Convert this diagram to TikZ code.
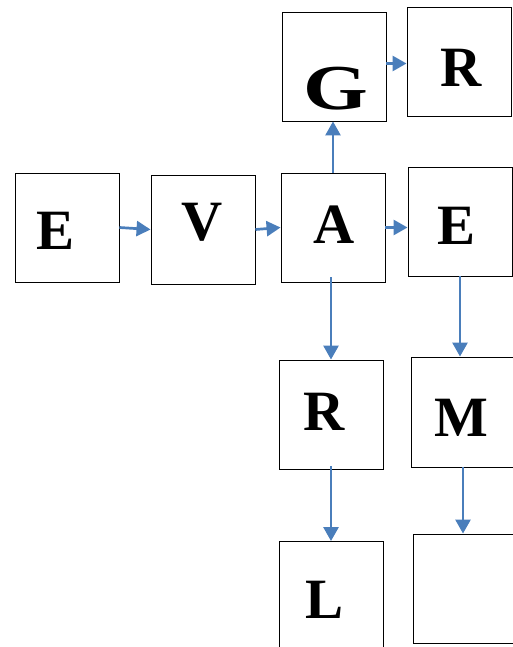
\documentclass[tikz,border=0pt]{standalone}
\usepackage{fontspec}
\setmainfont{Liberation Serif}
\usetikzlibrary{arrows.meta}
\definecolor{flow}{HTML}{4A7EBB}
\tikzset{
  card/.style={draw=black, line width=0.9pt, minimum width=104pt, minimum height=109pt, inner sep=0pt},
  glyph/.style={inner sep=0pt, font=\fontsize{57}{57}\selectfont\bfseries},
  link/.style={draw=flow, line width=2.7pt, -{Triangle[length=14pt,width=15pt]}}
}
\begin{document}
\begin{tikzpicture}[x=1pt,y=-1pt]
\useasboundingbox (0,0) rectangle (513,647);
\clip (0,0) rectangle (513,647);
% boxes
\node[card] (e1) at (67,227.5) {};
\node[card] (v)  at (203,229.5) {};
\node[card] (a)  at (333,227.5) {};
\node[card] (e2) at (460,221.5) {};
\node[card] (g)  at (334,66.5) {};
\node[card] (r1) at (459,61.5) {};
\node[card] (r2) at (331,414.5) {};
\node[card, minimum height=110pt] (m) at (463,412) {};
\node[card] (l)  at (331,596) {};
\node[card] (x)  at (465,588.5) {};
% letters
\node[glyph] (te1) at (56,231) {E};
\node[glyph] (tv)  at (202,222) {V};
\node[glyph] (ta)  at (334,225) {A};
\node[glyph] (te2) at (457,226) {E};
\node[inner sep=0pt, font=\fontsize{64}{64}\selectfont\bfseries] (tg) at (336,89) {\scalebox{1.3}[1]{G}};
\node[glyph] (tr1) at (461,68) {R};
\node[glyph] (tr2) at (324,412) {R};
\node[glyph] (tm)  at (461,418) {M};
\node[glyph] (tl)  at (325,600) {L};
% connectors
\draw[link] (e1.east) -- (v.west);
\draw[link] (v.east) -- (a.west);
\draw[link] (a.east) -- (a.east -| e2.west);
\draw[link] (a.north) -- (a.north |- g.south);
\draw[link] ([yshift=-2pt]g.east |- r1.west) -- ([yshift=-2pt]r1.west);
\draw[link] ([yshift=5pt]a.south -| r2.north) -- (r2.north);
\draw[link] ([yshift=3pt]r2.south) -- (r2.south |- l.north);
\draw[link] (e2.south) -- (e2.south |- m.north);
\draw[link] (m.south) -- (m.south |- x.north);
\end{tikzpicture}
\end{document}
